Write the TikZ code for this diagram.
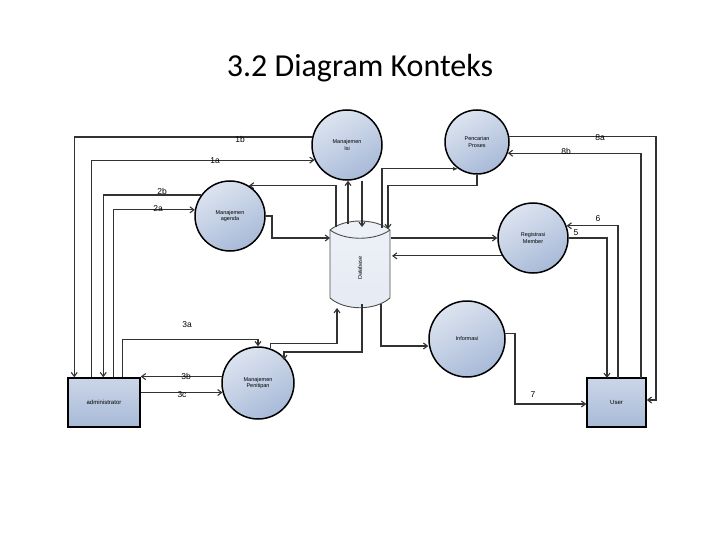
\documentclass[tikz,border=0pt]{standalone}
\usepackage{fontspec}
\setmainfont{Liberation Sans}
\newfontfamily\titlefont{Carlito}
\usetikzlibrary{arrows.meta,calc}
\definecolor{proc}{RGB}{168,186,216}
\definecolor{wire}{RGB}{50,50,50}
\begin{document}
\begin{tikzpicture}[x=1pt,y=-1pt,
  proc/.style={circle,draw=black,line width=1.5pt,minimum size=70pt,inner sep=0pt,
    top color=white!60!proc,bottom color=proc,shading angle=30,font=\fontsize{5.5}{6.5}\selectfont,align=center},
  ent/.style={rectangle,draw=black,line width=1.5pt,top color=proc!60,bottom color=proc,
    font=\fontsize{6}{7}\selectfont,inner sep=0pt},
  fl/.style={draw=wire,line width=1.1pt,-{Straight Barb[length=4pt,width=6pt]}},
  ln/.style={draw=wire,line width=1.1pt},
  lab/.style={font=\fontsize{8.5}{9}\selectfont}]
\useasboundingbox (0,0) rectangle (720,540);
\node[font=\titlefont\fontsize{32}{34}\selectfont] (title) at (360,68) {3.2 Diagram Konteks};
% processes
\node[proc] (isi) at (347,145) {Manajemen\\Isi};
\node[proc,minimum size=64pt] (cari) at (477,142) {Pencarian\\Proses};
\node[proc] (ag) at (230,216) {Manajemen\\agenda};
\node[proc] (reg) at (533,238) {Registrasi\\Member};
\node[proc,minimum size=76pt] (inf) at (467,339) {Informasi};
\node[proc,minimum size=72pt] (pen) at (258,383) {Manajemen\\Penitipan};
\node[ent,minimum width=72pt,minimum height=49pt] (adm) at (104,402.5) {administrator};
\node[ent,minimum width=59pt,minimum height=49pt] (usr) at (616.5,402.5) {User};
% database cylinder
\path[top color=white!80!proc,bottom color=white!70!proc,draw=black!70,line width=0.9pt]
  (330,230) .. controls (345,218) and (375,218) .. (390,230) -- (390,298)
  .. controls (375,311) and (345,311) .. (330,298) -- cycle;
\draw[black!70,line width=0.9pt] (330,230) .. controls (345,241) and (375,241) .. (390,230);
\node[rotate=90,font=\fontsize{5.5}{6}\selectfont] (db) at (360,268) {Database};
% admin flows
\draw[fl] (isi.167) -| ([xshift=7pt]adm.north west);
\node[lab] (l1b) at (240,139) {1b};
\draw[fl] ([xshift=24pt]adm.north west) |- (isi.205);
\node[lab] (l1a) at (215,161) {1a};
\draw[fl] (ag.144) -| ([xshift=36pt]adm.north west);
\node[lab] (l2b) at (162,191) {2b};
\draw[fl] ([xshift=46pt]adm.north west) |- (ag.170);
\node[lab] (l2a) at (158,209) {2a};
\draw[fl] ([xshift=55pt]adm.north west) -- ++(0,-38) -| (pen.north);
\node[lab] (l3a) at (187,325) {3a};
\draw[fl] (pen.170) -- (pen.170 -| adm.east);
\node[lab] (l3b) at (186,376) {3b};
\draw[fl] (pen.195 -| adm.east) -- (pen.195);
\node[lab] (l3c) at (182,395) {3c};
% database flows
\draw[fl] (pen.70) -- ++(0,-5) -| (337,308);
\draw[fl] (362,304) -- (362,352) -| (284,360);
\draw[fl] (381,304) |- (inf.west |- 0,346);
\draw[fl] (ag.east) -- (272,216) |- (330,238);
\draw[fl] (336,227) |- (ag.58);
\draw[fl] (348,224) -- (isi.south -| 348,0);
\draw[fl] (isi.south -| 362,0) -- (362,227);
\draw[ln,-{Latex[length=5pt]}] (382,228) |- (cari.235);
\draw[fl] (cari.south) -- ++(0,11) -| (388,229);
\draw[fl] (391,238) -- (reg.west);
\draw[fl] (reg.210) -- (reg.210 -| 392,0);
% user flows
\draw[fl] (inf.8) -| (515,404) -- (usr.west |- 0,404);
\node[lab] (l7) at (533,395) {7};
\draw[fl] (reg.0) -| (607,378);
\node[lab] (l5) at (576,233) {5};
\draw[fl] (618,378) |- (reg.20);
\node[lab] (l6) at (598,219) {6};
\draw[fl] (641,378) |- (cari.340);
\node[lab] (l8b) at (566,151) {8b};
\draw[fl] (cari.10) -| (656,400) -- (usr.east |- 0,400);
\node[lab] (l8a) at (600,138) {8a};
\end{tikzpicture}
\end{document}
